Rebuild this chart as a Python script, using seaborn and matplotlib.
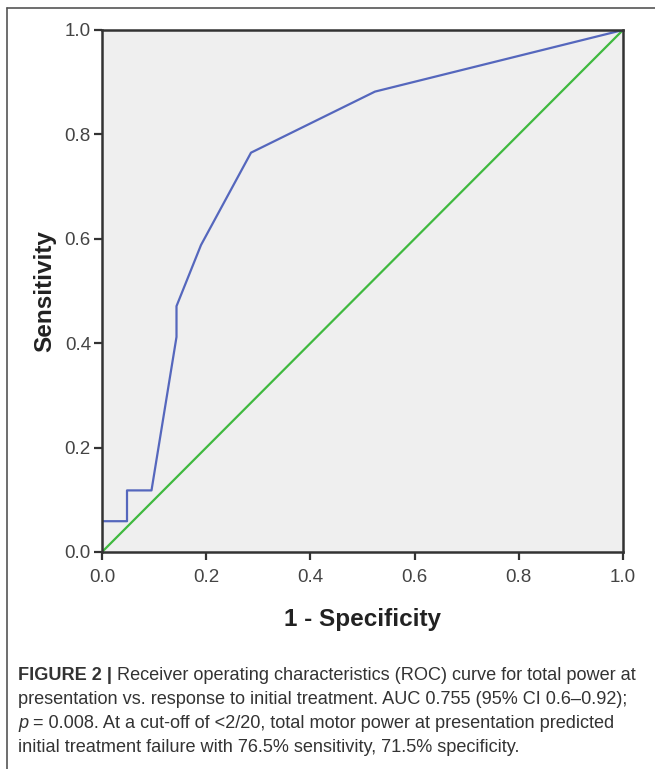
import matplotlib
matplotlib.use("Agg")
import matplotlib.pyplot as plt
import matplotlib.lines as mlines
import seaborn as sns
import pandas as pd

# ROC curve points (1 - specificity, sensitivity)
fpr = [0.0, 0.0, 0.048, 0.048, 0.095, 0.143, 0.143, 0.190, 0.286, 0.524, 1.0]
tpr = [0.0, 0.059, 0.059, 0.118, 0.118, 0.412, 0.471, 0.588, 0.765, 0.882, 1.0]
ref_line = [0.0, 1.0]
ticks = [0.0, 0.2, 0.4, 0.6, 0.8, 1.0]
tick_labels = ["0.0", "0.2", "0.4", "0.6", "0.8", "1.0"]

caption_lines = [
    [("FIGURE 2 |", "bold", "normal"),
     (" Receiver operating characteristics (ROC) curve for total power at", "normal", "normal")],
    [("presentation vs. response to initial treatment. AUC 0.755 (95% CI 0.6\u20130.92);", "normal", "normal")],
    [("p", "normal", "italic"),
     (" = 0.008. At a cut-off of <2/20, total motor power at presentation predicted", "normal", "normal")],
    [("initial treatment failure with 76.5% sensitivity, 71.5% specificity.", "normal", "normal")],
]

sns.set_style("ticks")
plt.rcParams['font.family'] = ['Liberation Sans', 'DejaVu Sans']

roc = pd.DataFrame({"fpr": fpr, "tpr": tpr})
diag = pd.DataFrame({"x": ref_line, "y": ref_line})

fig = plt.figure(figsize=(6.55, 7.69), dpi=100)
ax = fig.add_axes([102 / 655, 1 - 552 / 769, 521 / 655, 522 / 769])
ax.set_facecolor("#efefef")

sns.lineplot(data=diag, x="x", y="y", sort=False, estimator=None,
             color="#3fb93f", linewidth=1.6, ax=ax)
sns.lineplot(data=roc, x="fpr", y="tpr", sort=False, estimator=None,
             color="#5567bd", linewidth=1.6, ax=ax)

ax.set_xlim(0, 1)
ax.set_ylim(0, 1)
ax.set_xticks(ticks)
ax.set_yticks(ticks)
ax.set_xticklabels(tick_labels)
ax.set_yticklabels(tick_labels)
ax.tick_params(axis="both", labelsize=13.5, colors="#333333", length=6,
               width=1.6, direction="out", labelcolor="#444444")
ax.tick_params(axis="x", pad=6)
ax.tick_params(axis="y", pad=2)
for side in ["top", "right", "left", "bottom"]:
    ax.spines[side].set_visible(True)
    ax.spines[side].set_linewidth(1.8)
    ax.spines[side].set_color("#333333")

ax.set_xlabel("1 - Specificity", fontsize=17.5, fontweight="bold", color="#222222", labelpad=16)
ax.set_ylabel("Sensitivity", fontsize=17.5, fontweight="bold", color="#222222", labelpad=6)

# outer frame (top and left edges)
fig.add_artist(mlines.Line2D([7 / 655, 1.0], [1 - 8 / 769, 1 - 8 / 769],
                             transform=fig.transFigure, color="#555555", linewidth=1.2))
fig.add_artist(mlines.Line2D([7 / 655, 7 / 655], [0.0, 1 - 8 / 769],
                             transform=fig.transFigure, color="#555555", linewidth=1.2))

# caption, built piece by piece for the bold and italic parts
fig.canvas.draw()
renderer = fig.canvas.get_renderer()
y0 = 676
for i, pieces in enumerate(caption_lines):
    x = 18 / 655
    y = 1 - (y0 + 24 * i) / 769
    for text, weight, style in pieces:
        t = fig.text(x, y, text, fontsize=13.1, fontweight=weight, fontstyle=style,
                     color="#333333", va="center", ha="left")
        bb = t.get_window_extent(renderer=renderer)
        x = bb.x1 / fig.bbox.width

fig.savefig("out.png", dpi=100)
